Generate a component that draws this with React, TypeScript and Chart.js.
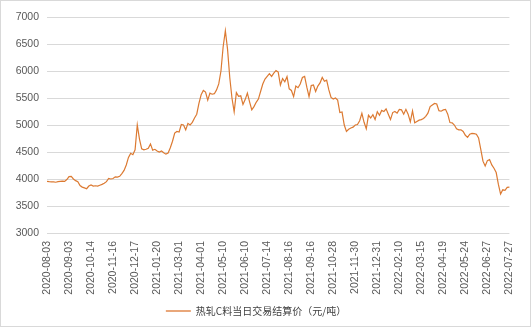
import React, { useEffect, useRef } from "react";
import { Chart, registerables } from "chart.js";

Chart.register(...registerables);

const tickLabels = [
  "2020-08-03", "2020-09-03", "2020-10-14", "2020-11-16", "2020-12-17", "2021-01-20",
  "2021-03-01", "2021-04-01", "2021-05-10", "2021-06-10", "2021-07-14", "2021-08-16",
  "2021-09-16", "2021-10-28", "2021-11-30", "2021-12-31", "2022-02-10", "2022-03-15",
  "2022-04-19", "2022-05-24", "2022-06-27", "2022-07-27",
];

const seriesName = "热轧C料当日交易结算价（元/吨）";

const prices = [
  3955, 3950, 3948, 3945, 3940, 3950, 3955, 3960, 3955, 3990,
  4045, 4050, 4000, 3970, 3950, 3880, 3850, 3835, 3820, 3870,
  3890, 3870, 3875, 3870, 3885, 3900, 3920, 3950, 4010, 4000,
  4010, 4040, 4035, 4050, 4100, 4160, 4260, 4400, 4475, 4450,
  4540, 5000, 4740, 4560, 4540, 4550, 4570, 4650, 4535, 4550,
  4520, 4500, 4520, 4485, 4460, 4480, 4580, 4700, 4850, 4880,
  4870, 5010, 5000, 4910, 5030, 5000, 5050, 5130, 5200, 5400,
  5560, 5640, 5610, 5460, 5590, 5570, 5580, 5650, 5760, 6000,
  6450, 6745, 6400, 5880, 5500, 5245, 5600, 5530, 5540, 5380,
  5470, 5590, 5430, 5280, 5340, 5420, 5480, 5620, 5760, 5850,
  5900, 5950, 5900, 5960, 6010, 5980, 5740, 5860, 5800, 5895,
  5670, 5640, 5525, 5720, 5690, 5760, 5880, 5900, 5700, 5525,
  5730, 5740, 5620, 5720, 5780, 5880, 5810, 5830, 5650, 5510,
  5480, 5500, 5460, 5230, 5240, 5000, 4880, 4920, 4945, 4960,
  5000, 5010, 5080, 5215, 5050, 4930, 5180, 5130, 5190, 5100,
  5245, 5180, 5270, 5250, 5300, 5200, 5100, 5230, 5250, 5220,
  5290, 5280, 5200, 5290, 5200, 5060, 5260, 5040, 5065, 5090,
  5100, 5120, 5160, 5220, 5340, 5370, 5400, 5390, 5265, 5255,
  5280, 5290, 5200, 5045, 5040, 5000, 4930, 4910, 4910, 4880,
  4810, 4770, 4830, 4845, 4840, 4830, 4760, 4550, 4330, 4240,
  4340, 4360, 4260, 4200, 4120, 3900, 3720, 3800, 3790, 3845,
  3850,
];

const pointsPerTick = 10;
const categories = prices.map((_, i) =>
  i % pointsPerTick === 0 ? tickLabels[i / pointsPerTick] ?? "" : ""
);

const yMin = 3000;
const yMax = 7000;
const yStep = 500;

export default function App() {
  const ref = useRef<HTMLCanvasElement>(null);

  useEffect(() => {
    document.body.style.margin = "0";
    const canvas = ref.current;
    if (!canvas) return;
    const chart = new Chart(canvas, {
      type: "line",
      data: {
        labels: categories,
        datasets: [
          {
            label: seriesName,
            data: prices,
            borderColor: "#dc7a32",
            backgroundColor: "#e9a77a",
            borderWidth: 1.2,
            pointRadius: 0,
            tension: 0,
            fill: false,
          },
        ],
      },
      options: {
        responsive: false,
        animation: false,
        devicePixelRatio: 1,
        layout: { padding: { left: 0, right: 19, top: 16, bottom: 0 } },
        plugins: {
          tooltip: { enabled: false },
          legend: {
            display: true,
            position: "bottom",
            labels: {
              boxWidth: 25,
              boxHeight: 2,
              padding: 6,
              color: "#404040",
              font: { family: "'Noto Sans CJK SC', sans-serif", size: 10 },
              generateLabels: (c: any) =>
                Chart.defaults.plugins.legend.labels
                  .generateLabels(c)
                  .map((it: any) => ({
                    ...it,
                    lineWidth: 0,
                    fillStyle: "#e9a77a",
                    strokeStyle: "rgba(0,0,0,0)",
                  })),
            },
          },
        },
        scales: {
          x: {
            type: "category",
            offset: false,
            grid: { display: false, drawTicks: false },
            border: { display: false },
            ticks: {
              autoSkip: false,
              minRotation: 90,
              maxRotation: 90,
              padding: 8,
              color: "#595959",
              font: { family: "'Liberation Sans', Arial, sans-serif", size: 10.5 },
            },
            afterFit: (s: any) => {
              s.height = 67;
            },
          },
          y: {
            min: yMin,
            max: yMax,
            grid: { color: "#d9d9d9", lineWidth: 1, drawTicks: false },
            border: { display: false },
            ticks: {
              stepSize: yStep,
              padding: 8,
              color: "#595959",
              font: { family: "'Liberation Sans', Arial, sans-serif", size: 10.5 },
              callback: (v: any) => String(v),
            },
            afterFit: (s: any) => {
              s.width = 46;
            },
          },
        },
      },
    });
    return () => chart.destroy();
  }, []);

  return (
    <div
      style={{
        width: 531,
        height: 327,
        boxSizing: "border-box",
        border: "1px solid #d9d9d9",
        background: "#fff",
      }}
    >
      <canvas ref={ref} width={529} height={325} style={{ display: "block" }} />
    </div>
  );
}
